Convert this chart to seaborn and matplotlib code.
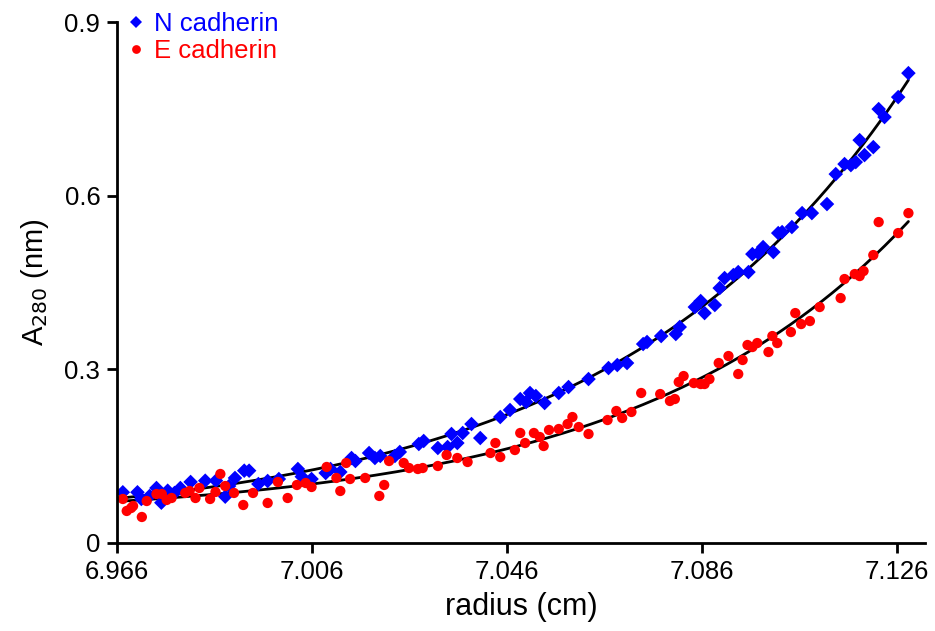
import numpy as np
import pandas as pd
import matplotlib
matplotlib.use("Agg")
import matplotlib.pyplot as plt
import seaborn as sns

# N cadherin (blue diamonds)
n_radius = [6.9672, 6.9702, 6.9710, 6.9727, 6.9741, 6.9751, 6.9764, 6.9778, 6.9790, 6.9811,
            6.9841, 6.9863, 6.9882, 6.9890, 6.9902, 6.9921, 6.9931, 6.9950, 6.9969, 6.9992,
            7.0031, 7.0039, 7.0059, 7.0088, 7.0098, 7.0118, 7.0141, 7.0149, 7.0177, 7.0189,
            7.0200, 7.0230, 7.0240, 7.0279, 7.0289, 7.0318, 7.0338, 7.0346, 7.0358, 7.0369,
            7.0387, 7.0405, 7.0446, 7.0466, 7.0487, 7.0499, 7.0507, 7.0519, 7.0537, 7.0566,
            7.0586, 7.0627, 7.0668, 7.0686, 7.0706, 7.0739, 7.0747, 7.0776, 7.0806, 7.0814,
            7.0845, 7.0857, 7.0865, 7.0886, 7.0896, 7.0906, 7.0924, 7.0934, 7.0955, 7.0963,
            7.0975, 7.0985, 7.1006, 7.1016, 7.1024, 7.1044, 7.1065, 7.1085, 7.1116, 7.1134,
            7.1152, 7.1165, 7.1175, 7.1183, 7.1193, 7.1211, 7.1222, 7.1234, 7.1262, 7.1283]
n_abs = [0.0876, 0.0876, 0.0760, 0.0812, 0.0950, 0.0696, 0.0903, 0.0864, 0.0950, 0.1054,
         0.1076, 0.1076, 0.0800, 0.0984, 0.1123, 0.1249, 0.1249, 0.1019, 0.1071, 0.1105,
         0.1278, 0.1145, 0.1105, 0.1209, 0.1278, 0.1226, 0.1468, 0.1416, 0.1554, 0.1468,
         0.1503, 0.1503, 0.1572, 0.1710, 0.1762, 0.1641, 0.1658, 0.1883, 0.1727, 0.1900,
         0.2055, 0.1813, 0.2176, 0.2297, 0.2487, 0.2435, 0.2591, 0.2539, 0.2418, 0.2591,
         0.2694, 0.2832, 0.3022, 0.3074, 0.3109, 0.3437, 0.3472, 0.3575, 0.3610, 0.3731,
         0.4076, 0.4180, 0.3972, 0.4111, 0.4404, 0.4577, 0.4629, 0.4680, 0.4680, 0.4991,
         0.5009, 0.5112, 0.5026, 0.5354, 0.5371, 0.5458, 0.5699, 0.5699, 0.5855, 0.6373,
         0.6546, 0.6528, 0.6580, 0.6960, 0.6701, 0.6839, 0.7496, 0.7358, 0.7703, 0.8117]

# E cadherin (red circles)
e_radius = [6.9672, 6.9680, 6.9689, 6.9693, 6.9711, 6.9721, 6.9741, 6.9752, 6.9762, 6.9772,
            6.9800, 6.9809, 6.9821, 6.9829, 6.9851, 6.9862, 6.9872, 6.9882, 6.9900, 6.9919,
            6.9939, 6.9969, 6.9990, 7.0010, 7.0029, 7.0047, 7.0059, 7.0090, 7.0110, 7.0118,
            7.0130, 7.0138, 7.0169, 7.0198, 7.0208, 7.0218, 7.0248, 7.0259, 7.0277, 7.0287,
            7.0318, 7.0336, 7.0358, 7.0379, 7.0426, 7.0436, 7.0446, 7.0476, 7.0487, 7.0497,
            7.0515, 7.0527, 7.0535, 7.0546, 7.0566, 7.0584, 7.0594, 7.0607, 7.0627, 7.0666,
            7.0684, 7.0696, 7.0715, 7.0735, 7.0774, 7.0794, 7.0804, 7.0812, 7.0822, 7.0843,
            7.0857, 7.0865, 7.0875, 7.0894, 7.0914, 7.0934, 7.0943, 7.0953, 7.0963, 7.0973,
            7.0996, 7.1004, 7.1014, 7.1042, 7.1051, 7.1063, 7.1081, 7.1101, 7.1144, 7.1152,
            7.1173, 7.1183, 7.1191, 7.1211, 7.1222, 7.1262, 7.1283]
e_abs = [0.0760, 0.0553, 0.0604, 0.0639, 0.0449, 0.0725, 0.0846, 0.0846, 0.0743, 0.0777,
         0.0864, 0.0898, 0.0777, 0.0950, 0.0760, 0.0881, 0.1192, 0.0984, 0.0864, 0.0656,
         0.0864, 0.0691, 0.1054, 0.0777, 0.1002, 0.1036, 0.0967, 0.1313, 0.1123, 0.0898,
         0.1382, 0.1105, 0.1123, 0.0812, 0.1002, 0.1416, 0.1382, 0.1295, 0.1278, 0.1295,
         0.1330, 0.1520, 0.1468, 0.1399, 0.1554, 0.1727, 0.1485, 0.1606, 0.1900, 0.1727,
         0.1900, 0.1831, 0.1675, 0.1952, 0.1969, 0.2055, 0.2176, 0.2003, 0.1883, 0.2124,
         0.2280, 0.2159, 0.2263, 0.2591, 0.2573, 0.2453, 0.2487, 0.2781, 0.2884, 0.2763,
         0.2746, 0.2746, 0.2832, 0.3109, 0.3230, 0.2919, 0.3161, 0.3420, 0.3385, 0.3454,
         0.3299, 0.3575, 0.3454, 0.3644, 0.3972, 0.3782, 0.3834, 0.4076, 0.4231, 0.4560,
         0.4646, 0.4611, 0.4698, 0.4974, 0.5544, 0.5354, 0.5699]

x_ticks = [6.966, 7.006, 7.046, 7.086, 7.126]
x_ticklabels = ["6.966", "7.006", "7.046", "7.086", "7.126"]
y_ticks = [0, 0.3, 0.6, 0.9]
y_ticklabels = ["0", "0.3", "0.6", "0.9"]


def fit_exp(x, y):
    # y = a + b*exp(k*(x - x0)), grid over k, linear least squares for a, b
    x = np.asarray(x); y = np.asarray(y)
    x0 = x.min()
    best = None
    for k in np.linspace(1, 80, 800):
        A = np.column_stack([np.ones_like(x), np.exp(k * (x - x0))])
        coef, *_ = np.linalg.lstsq(A, y, rcond=None)
        err = np.sum((A @ coef - y) ** 2)
        if best is None or err < best[0]:
            best = (err, k, coef)
    _, k, coef = best
    xs = np.linspace(x0, x.max(), 300)
    return xs, coef[0] + coef[1] * np.exp(k * (xs - x0))


df = pd.concat([
    pd.DataFrame({'radius': n_radius, 'A280': n_abs, 'protein': 'N cadherin'}),
    pd.DataFrame({'radius': e_radius, 'A280': e_abs, 'protein': 'E cadherin'}),
], ignore_index=True)

sns.set_style("ticks", {'axes.edgecolor': 'black', 'text.color': 'black',
                        'axes.labelcolor': 'black', 'xtick.color': 'black',
                        'ytick.color': 'black'})
plt.rcParams['font.family'] = ['Liberation Sans', 'DejaVu Sans']

fig = plt.figure(figsize=(9.35, 6.31), dpi=100)
ax = fig.add_axes([0.1251, 0.1395, 0.8642, 0.8256])

for xs_, ys_ in [fit_exp(n_radius, n_abs), fit_exp(e_radius, e_abs)]:
    ax.plot(xs_, ys_, color='black', lw=2, zorder=1)

sns.scatterplot(data=df, x='radius', y='A280', hue='protein', style='protein',
                palette={'N cadherin': '#0000ff', 'E cadherin': '#ff0000'},
                markers={'N cadherin': 'D', 'E cadherin': 'o'},
                s=55, edgecolor='none', linewidth=0, ax=ax, zorder=2)

ax.set_xlim(6.966, 7.1317)
ax.set_ylim(0, 0.9)
ax.set_xticks(x_ticks)
ax.set_xticklabels(x_ticklabels)
ax.set_yticks(y_ticks)
ax.set_yticklabels(y_ticklabels)
ax.tick_params(axis='both', direction='out', length=7, width=2, labelsize=18.5, pad=5,
               colors='black')
for side in ['left', 'bottom']:
    ax.spines[side].set_linewidth(2)
    ax.spines[side].set_color('black')
sns.despine(ax=ax)
ax.spines['left'].set_clip_on(False)

ax.set_xlabel('radius (cm)', fontsize=22, labelpad=6, color='black')
ax.set_ylabel(r'A$_{280}$ (nm)', fontsize=21, labelpad=10, color='black')

leg = ax.legend(loc='upper left', bbox_to_anchor=(-0.008, 1.039), frameon=False,
                fontsize=18.5, handletextpad=0.1, labelspacing=0.1, borderaxespad=0,
                markerscale=0.85, handlelength=1.2)
for text, col in zip(leg.get_texts(), ['#0000ff', '#ff0000']):
    text.set_color(col)

fig.savefig('out.png', dpi=100)
